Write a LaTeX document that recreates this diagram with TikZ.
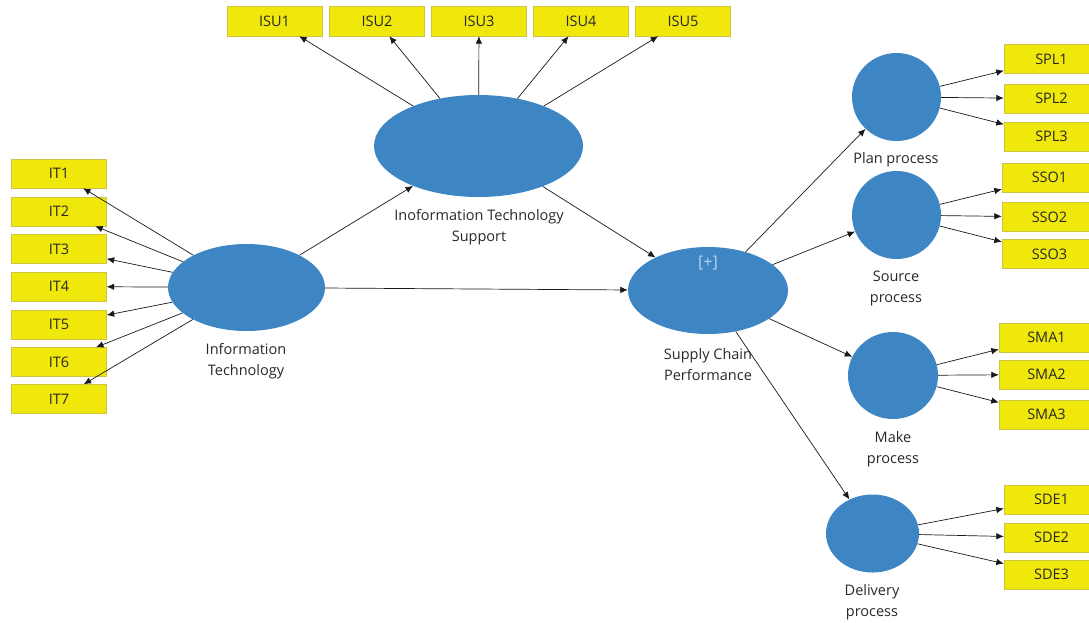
\documentclass[tikz,border=0pt]{standalone}
\usepackage{fontspec}
\setmainfont{Open Sans}
\usetikzlibrary{shapes.geometric,arrows.meta}
\begin{document}
\begin{tikzpicture}[x=1pt,y=-1pt,
  ind/.style={draw=boxline, fill=boxyellow, minimum width=95pt, minimum height=29pt, inner sep=0pt, font=\fontsize{14.5}{16}\selectfont, text=txtgrey},
  lv/.style={ellipse, fill=lvblue, inner sep=0pt},
  lbl/.style={align=center, font=\fontsize{14.5}{21}\selectfont, text=txtgrey},
  arr/.style={draw=black!90, line width=0.7pt, -{Latex[length=7.5pt,width=6.5pt]}}]
\definecolor{lvblue}{RGB}{62,133,196}
\definecolor{boxyellow}{RGB}{240,232,10}
\definecolor{boxline}{RGB}{205,196,70}
\definecolor{txtgrey}{RGB}{40,40,40}
\definecolor{plusgrey}{RGB}{190,210,232}

\useasboundingbox (0,0) rectangle (1089,622);
\clip (0,0) rectangle (1089,622);

\node[lv, minimum width=157pt, minimum height=87pt] (it) at (246.5,287.5) {};
\node[lv, minimum width=209pt, minimum height=102pt] (isu) at (478.5,146) {};
\node[lv, minimum width=160pt, minimum height=87pt] (scp) at (708,290.5) {};
\node[lv, minimum width=89pt, minimum height=88pt] (plan) at (896.5,97) {};
\node[lv, minimum width=89pt, minimum height=88pt] (source) at (896.5,215) {};
\node[lv, minimum width=90pt, minimum height=87pt] (make) at (893,375.5) {};
\node[lv, minimum width=93pt, minimum height=78pt] (deliv) at (872.5,533.5) {};
\node[font=\fontsize{16}{18}\selectfont, text=plusgrey] (scpplus) at (708,263) {[+]};

\node[lbl] (itlbl) at (246,361) {Information\\Technology};
\node[lbl] (isulbl) at (479,227) {Inoformation Technology\\Support};
\node[lbl] (scplbl) at (708,364.5) {Supply Chain\\Performance};
\node[lbl] (planlbl) at (896,160) {Plan process};
\node[lbl] (sourcelbl) at (896,288.5) {Source\\process};
\node[lbl] (makelbl) at (893,449) {Make\\process};
\node[lbl] (delivlbl) at (872,602) {Delivery\\process};

\node[ind] (IT1) at (59,173.5) {IT1};
\node[ind] (IT2) at (59,211.5) {IT2};
\node[ind] (IT3) at (59,249) {IT3};
\node[ind] (IT4) at (59,286.5) {IT4};
\node[ind] (IT5) at (59,324.5) {IT5};
\node[ind] (IT6) at (59,362) {IT6};
\node[ind] (IT7) at (59,399) {IT7};

\node[ind, minimum height=30pt] (ISU1) at (274.5,21) {ISU1};
\node[ind, minimum height=30pt] (ISU2) at (377,21) {ISU2};
\node[ind, minimum height=30pt] (ISU3) at (479,21) {ISU3};
\node[ind, minimum height=30pt] (ISU4) at (581,21) {ISU4};
\node[ind, minimum height=30pt] (ISU5) at (683,21) {ISU5};

\node[ind] (SPL1) at (1051.5,59) {SPL1};
\node[ind] (SPL2) at (1051.5,98.5) {SPL2};
\node[ind] (SPL3) at (1051.5,136.5) {SPL3};
\node[ind] (SSO1) at (1049.5,177.5) {SSO1};
\node[ind] (SSO2) at (1049.5,217) {SSO2};
\node[ind] (SSO3) at (1049.5,254) {SSO3};
\node[ind] (SMA1) at (1046.5,337.5) {SMA1};
\node[ind] (SMA2) at (1046.5,374.5) {SMA2};
\node[ind] (SMA3) at (1046.5,414.5) {SMA3};
\node[ind] (SDE1) at (1051.5,499.5) {SDE1};
\node[ind] (SDE2) at (1051.5,537.5) {SDE2};
\node[ind] (SDE3) at (1051.5,574.5) {SDE3};

\path[arr] (it) -- (isu);
\path[arr] (it) -- (scp);
\path[arr] (isu) -- (scp);
\path[arr] (scp) -- (plan);
\path[arr] (scp) -- (source);
\path[arr] (scp) -- (make);
\path[arr] (scp) -- (deliv);

\path[arr] (it) -- (IT1);
\path[arr] (it) -- (IT2);
\path[arr] (it) -- (IT3);
\path[arr] (it) -- (IT4);
\path[arr] (it) -- (IT5);
\path[arr] (it) -- (IT6);
\path[arr] (it) -- (IT7);

\path[arr] (isu) -- (ISU1);
\path[arr] (isu) -- (ISU2);
\path[arr] (isu) -- (ISU3);
\path[arr] (isu) -- (ISU4);
\path[arr] (isu) -- (ISU5);

\path[arr] (plan) -- (SPL1);
\path[arr] (plan) -- (SPL2);
\path[arr] (plan) -- (SPL3);
\path[arr] (source) -- (SSO1);
\path[arr] (source) -- (SSO2);
\path[arr] (source) -- (SSO3);
\path[arr] (make) -- (SMA1);
\path[arr] (make) -- (SMA2);
\path[arr] (make) -- (SMA3);
\path[arr] (deliv) -- (SDE1);
\path[arr] (deliv) -- (SDE2);
\path[arr] (deliv) -- (SDE3);
\end{tikzpicture}
\end{document}
